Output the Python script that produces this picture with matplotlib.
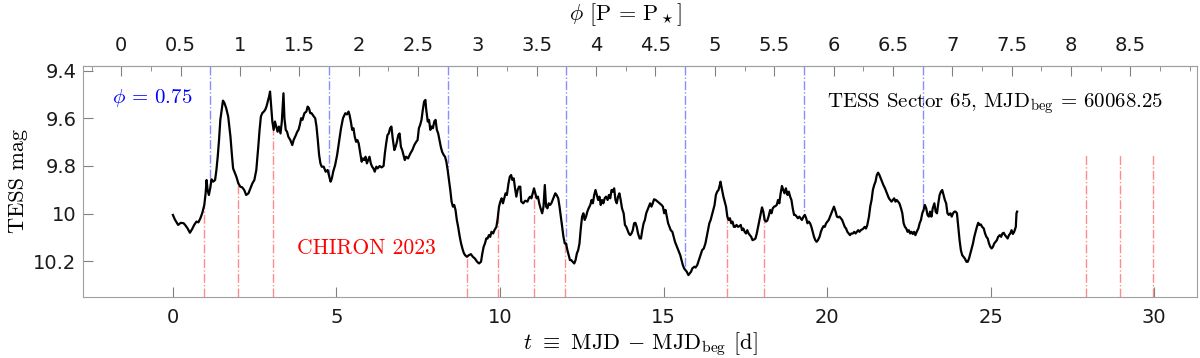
import numpy as np
import matplotlib
matplotlib.use("Agg")
import matplotlib.pyplot as plt
from matplotlib.ticker import MultipleLocator

plt.rcParams['mathtext.fontset'] = 'cm'
plt.rcParams['font.family'] = 'DejaVu Sans'

# TESS Sector 65 light curve, t = MJD - MJD_beg [d]
t = [0.00, 0.06, 0.16, 0.24, 0.33, 0.39, 0.45, 0.52, 0.59, 0.65, 0.72, 0.78, 0.84, 0.90, 0.96,
     1.00, 1.03, 1.06, 1.10, 1.14, 1.18, 1.23, 1.29, 1.33, 1.37, 1.41, 1.45, 1.49, 1.53, 1.57,
     1.63, 1.69, 1.76, 1.80, 1.84, 1.88, 1.94, 2.00, 2.06, 2.12, 2.18, 2.24, 2.31, 2.37, 2.43,
     2.49, 2.55, 2.61, 2.65, 2.69, 2.73, 2.78, 2.82, 2.86, 2.90, 2.94, 2.97, 3.00, 3.04, 3.08,
     3.12, 3.16, 3.20, 3.24, 3.29, 3.33, 3.36, 3.38, 3.41, 3.45, 3.49, 3.53, 3.59, 3.65, 3.69,
     3.76, 3.80, 3.84, 3.88, 3.92, 3.96, 4.02, 4.08, 4.12, 4.16, 4.20, 4.24, 4.31, 4.35, 4.39,
     4.43, 4.47, 4.51, 4.55, 4.61, 4.67, 4.73, 4.78, 4.82, 4.86, 4.90, 4.96, 5.02, 5.08, 5.14,
     5.20, 5.27, 5.32, 5.37, 5.40, 5.44, 5.48, 5.52, 5.56, 5.60, 5.64, 5.68, 5.72, 5.77, 5.81,
     5.85, 5.89, 5.93, 5.97, 6.01, 6.05, 6.09, 6.13, 6.17, 6.22, 6.26, 6.32, 6.38, 6.44, 6.48,
     6.52, 6.56, 6.60, 6.64, 6.68, 6.72, 6.77, 6.81, 6.85, 6.89, 6.93, 6.97, 7.01, 7.05, 7.09,
     7.13, 7.19, 7.26, 7.32, 7.38, 7.44, 7.48, 7.52, 7.56, 7.60, 7.64, 7.68, 7.72, 7.74, 7.79,
     7.83, 7.87, 7.91, 7.95, 7.99, 8.03, 8.07, 8.11, 8.15, 8.19, 8.23, 8.28, 8.32, 8.36, 8.40,
     8.44, 8.48, 8.52, 8.56, 8.60, 8.64, 8.68, 8.72, 8.77, 8.81, 8.85, 8.89, 8.93, 8.99, 9.05,
     9.11, 9.17, 9.23, 9.30, 9.36, 9.42, 9.46, 9.50, 9.54, 9.58, 9.62, 9.66, 9.70, 9.74, 9.79,
     9.83, 9.89, 9.93, 9.97, 10.01, 10.05, 10.09, 10.13, 10.17, 10.21, 10.26, 10.30, 10.34, 10.38, 10.42,
     10.46, 10.50, 10.54, 10.58, 10.62, 10.65, 10.71, 10.77, 10.84, 10.88, 10.92, 10.96, 11.00, 11.04, 11.08,
     11.12, 11.16, 11.20, 11.24, 11.29, 11.33, 11.37, 11.41, 11.45, 11.49, 11.53, 11.57, 11.61, 11.65, 11.69,
     11.73, 11.78, 11.82, 11.86, 11.90, 11.94, 11.98, 12.02, 12.06, 12.10, 12.14, 12.18, 12.22, 12.27, 12.31,
     12.35, 12.39, 12.43, 12.47, 12.51, 12.55, 12.59, 12.63, 12.67, 12.71, 12.76, 12.80, 12.84, 12.88, 12.92,
     12.96, 13.00, 13.04, 13.08, 13.12, 13.16, 13.20, 13.24, 13.29, 13.33, 13.37, 13.41, 13.45, 13.49, 13.53,
     13.57, 13.61, 13.65, 13.69, 13.73, 13.78, 13.82, 13.86, 13.90, 13.94, 13.98, 14.02, 14.06, 14.10, 14.14,
     14.18, 14.22, 14.27, 14.31, 14.35, 14.39, 14.43, 14.47, 14.51, 14.55, 14.59, 14.63, 14.67, 14.71, 14.76,
     14.82, 14.88, 14.94, 14.98, 15.02, 15.06, 15.10, 15.14, 15.18, 15.22, 15.27, 15.31, 15.35, 15.39, 15.43,
     15.47, 15.51, 15.55, 15.59, 15.63, 15.67, 15.71, 15.76, 15.80, 15.84, 15.88, 15.94, 15.98, 16.03, 16.08,
     16.13, 16.18, 16.23, 16.28, 16.32, 16.36, 16.40, 16.44, 16.48, 16.52, 16.56, 16.60, 16.64, 16.68, 16.72,
     16.74, 16.79, 16.83, 16.87, 16.91, 16.95, 16.99, 17.03, 17.07, 17.11, 17.15, 17.19, 17.23, 17.28, 17.32,
     17.36, 17.40, 17.44, 17.48, 17.52, 17.56, 17.60, 17.64, 17.68, 17.72, 17.77, 17.81, 17.85, 17.89, 17.93,
     17.97, 18.01, 18.05, 18.09, 18.13, 18.17, 18.21, 18.26, 18.30, 18.34, 18.38, 18.42, 18.46, 18.50, 18.54,
     18.58, 18.62, 18.66, 18.70, 18.74, 18.79, 18.83, 18.87, 18.91, 18.95, 18.99, 19.03, 19.07, 19.11, 19.15,
     19.19, 19.23, 19.28, 19.32, 19.36, 19.40, 19.44, 19.48, 19.52, 19.56, 19.60, 19.64, 19.68, 19.72, 19.77,
     19.81, 19.85, 19.89, 19.93, 19.97, 20.01, 20.05, 20.09, 20.13, 20.17, 20.21, 20.26, 20.30, 20.34, 20.38,
     20.42, 20.46, 20.50, 20.54, 20.58, 20.62, 20.66, 20.70, 20.74, 20.79, 20.83, 20.87, 20.91, 20.95, 20.99,
     21.03, 21.07, 21.11, 21.15, 21.19, 21.23, 21.28, 21.32, 21.36, 21.40, 21.44, 21.48, 21.52, 21.56, 21.60,
     21.64, 21.68, 21.72, 21.77, 21.81, 21.85, 21.89, 21.93, 21.97, 22.01, 22.05, 22.09, 22.13, 22.17, 22.21,
     22.26, 22.30, 22.34, 22.38, 22.42, 22.46, 22.50, 22.54, 22.58, 22.62, 22.66, 22.70, 22.74, 22.79, 22.83,
     22.87, 22.91, 22.95, 22.99, 23.03, 23.07, 23.11, 23.15, 23.19, 23.23, 23.28, 23.32, 23.36, 23.40, 23.44,
     23.48, 23.52, 23.56, 23.60, 23.64, 23.68, 23.72, 23.77, 23.81, 23.85, 23.89, 23.93, 23.97, 24.01, 24.05,
     24.09, 24.13, 24.17, 24.21, 24.26, 24.30, 24.34, 24.38, 24.42, 24.46, 24.50, 24.54, 24.58, 24.62, 24.66,
     24.70, 24.74, 24.79, 24.83, 24.87, 24.91, 24.95, 24.99, 25.03, 25.07, 25.11, 25.15, 25.19, 25.23, 25.28,
     25.32, 25.36, 25.40, 25.44, 25.48, 25.52, 25.56, 25.60, 25.64, 25.68, 25.72, 25.77, 25.79, 25.81]

mag = [10.006, 10.025, 10.048, 10.039, 10.041, 10.051, 10.063, 10.081, 10.065, 10.048, 10.034, 10.037, 10.020, 9.997, 9.964,
       9.915, 9.859, 9.901, 9.922, 9.894, 9.856, 9.866, 9.859, 9.817, 9.761, 9.691, 9.606, 9.564, 9.525, 9.533,
       9.557, 9.592, 9.677, 9.747, 9.810, 9.824, 9.845, 9.873, 9.887, 9.890, 9.901, 9.922, 9.915, 9.894, 9.873,
       9.859, 9.817, 9.719, 9.648, 9.592, 9.578, 9.571, 9.564, 9.550, 9.529, 9.508, 9.487, 9.543, 9.613, 9.648,
       9.613, 9.634, 9.656, 9.634, 9.663, 9.613, 9.543, 9.494, 9.599, 9.648, 9.656, 9.677, 9.691, 9.712, 9.691,
       9.670, 9.656, 9.648, 9.627, 9.599, 9.606, 9.578, 9.571, 9.550, 9.557, 9.578, 9.578, 9.592, 9.599, 9.634,
       9.691, 9.754, 9.789, 9.803, 9.803, 9.824, 9.817, 9.845, 9.866, 9.852, 9.824, 9.796, 9.754, 9.698, 9.641,
       9.599, 9.578, 9.583, 9.571, 9.585, 9.613, 9.648, 9.641, 9.677, 9.698, 9.691, 9.705, 9.740, 9.782, 9.768,
       9.775, 9.761, 9.789, 9.775, 9.761, 9.789, 9.803, 9.810, 9.824, 9.803, 9.810, 9.800, 9.806, 9.800, 9.747,
       9.705, 9.670, 9.663, 9.641, 9.634, 9.684, 9.733, 9.719, 9.698, 9.670, 9.663, 9.719, 9.733, 9.754, 9.775,
       9.761, 9.768, 9.747, 9.733, 9.712, 9.698, 9.691, 9.641, 9.627, 9.606, 9.564, 9.529, 9.522, 9.557, 9.613,
       9.606, 9.648, 9.634, 9.641, 9.613, 9.606, 9.648, 9.663, 9.691, 9.719, 9.740, 9.754, 9.761, 9.782, 9.817,
       9.859, 9.901, 9.950, 9.971, 9.964, 9.985, 10.027, 10.056, 10.098, 10.126, 10.147, 10.165, 10.175, 10.182, 10.175,
       10.171, 10.182, 10.189, 10.203, 10.210, 10.203, 10.168, 10.140, 10.126, 10.105, 10.105, 10.091, 10.098, 10.077, 10.084,
       10.070, 10.056, 10.020, 9.971, 9.950, 9.936, 9.957, 9.936, 9.915, 9.922, 9.873, 9.845, 9.838, 9.859, 9.852,
       9.894, 9.929, 9.901, 9.887, 9.887, 9.950, 9.957, 9.946, 9.950, 9.936, 9.929, 9.936, 9.915, 9.894, 9.915,
       9.936, 9.929, 9.957, 9.978, 9.999, 9.971, 9.880, 9.971, 9.978, 9.957, 9.964, 9.957, 9.943, 9.929, 9.915,
       9.922, 9.936, 9.971, 10.013, 10.056, 10.098, 10.126, 10.126, 10.154, 10.175, 10.196, 10.196, 10.203, 10.210, 10.196,
       10.168, 10.154, 10.126, 10.063, 10.013, 9.999, 10.027, 10.013, 9.992, 9.978, 9.964, 9.943, 9.957, 9.922, 9.901,
       9.922, 9.943, 9.929, 9.964, 9.943, 9.957, 9.936, 9.929, 9.943, 9.922, 9.936, 9.901, 9.908, 9.894, 9.943,
       9.957, 9.929, 9.915, 9.943, 9.978, 9.999, 10.048, 10.056, 10.070, 10.084, 10.091, 10.084, 10.070, 10.041, 10.039,
       10.056, 10.084, 10.105, 10.105, 10.070, 10.041, 10.027, 9.999, 9.985, 9.971, 9.957, 9.971, 9.957, 9.940, 9.943,
       9.950, 9.957, 9.964, 9.971, 9.999, 9.985, 10.013, 10.041, 10.056, 10.070, 10.077, 10.098, 10.119, 10.133, 10.147,
       10.161, 10.175, 10.196, 10.217, 10.231, 10.238, 10.245, 10.259, 10.252, 10.245, 10.231, 10.224, 10.227, 10.217, 10.196,
       10.175, 10.154, 10.147, 10.126, 10.098, 10.070, 10.041, 10.027, 10.006, 9.985, 9.964, 9.922, 9.908, 9.901, 9.880,
       9.866, 9.901, 9.929, 9.950, 9.971, 10.013, 10.027, 10.020, 10.041, 10.034, 10.056, 10.056, 10.048, 10.056, 10.053,
       10.048, 10.070, 10.063, 10.077, 10.084, 10.070, 10.084, 10.091, 10.098, 10.112, 10.109, 10.105, 10.084, 10.056, 10.027,
       9.999, 9.974, 9.992, 10.027, 10.034, 10.030, 10.013, 9.985, 9.999, 9.978, 9.971, 9.969, 9.964, 9.943, 9.957,
       9.915, 9.884, 9.901, 9.915, 9.894, 9.922, 9.908, 9.929, 9.943, 9.978, 10.006, 10.006, 10.013, 10.020, 10.013,
       10.020, 10.027, 10.013, 10.006, 10.020, 10.041, 10.034, 10.041, 10.056, 10.077, 10.098, 10.112, 10.119, 10.112, 10.098,
       10.077, 10.063, 10.053, 10.056, 10.041, 10.034, 10.027, 10.013, 9.999, 9.985, 9.971, 9.992, 10.013, 10.016, 10.013,
       10.020, 10.027, 10.041, 10.056, 10.063, 10.077, 10.084, 10.091, 10.084, 10.084, 10.077, 10.084, 10.077, 10.070, 10.077,
       10.070, 10.067, 10.063, 10.056, 10.063, 10.048, 10.013, 9.970, 9.943, 9.901, 9.880, 9.866, 9.838, 9.828, 9.838,
       9.852, 9.866, 9.880, 9.894, 9.908, 9.922, 9.936, 9.943, 9.950, 9.943, 9.936, 9.950, 9.943, 9.950, 9.957,
       9.978, 9.999, 10.041, 10.056, 10.063, 10.077, 10.070, 10.084, 10.077, 10.086, 10.077, 10.091, 10.077, 10.063, 10.041,
       10.027, 9.999, 9.985, 9.964, 9.978, 10.006, 10.013, 9.992, 10.013, 9.978, 9.957, 9.992, 9.999, 9.957, 9.922,
       9.908, 9.901, 9.922, 9.943, 9.957, 9.999, 10.006, 9.999, 10.013, 9.999, 9.992, 9.992, 9.999, 10.056, 10.112,
       10.154, 10.175, 10.182, 10.189, 10.203, 10.203, 10.189, 10.168, 10.147, 10.126, 10.098, 10.077, 10.056, 10.039, 10.048,
       10.046, 10.056, 10.063, 10.084, 10.098, 10.105, 10.126, 10.140, 10.147, 10.140, 10.126, 10.119, 10.112, 10.098, 10.091,
       10.098, 10.084, 10.081, 10.091, 10.098, 10.105, 10.091, 10.084, 10.070, 10.086, 10.077, 10.056, 9.999, 9.992]

# CHIRON 2023 epochs
t_chiron = [0.95, 1.98, 3.05, 8.99, 9.95, 11.05, 11.98, 16.95, 18.06, 27.93, 28.95, 29.96]
mag_nodata = 9.75

# ephemeris for the phase axis
t_phi0 = -1.581
period = 3.630
phi_marks = [0.75, 1.75, 2.75, 3.75, 4.75, 5.75, 6.75]

t = np.array(t)
mag = np.array(mag)

serif = 'cmr10'

fig = plt.figure(figsize=(12, 3.58), dpi=100)
ax = fig.add_axes([0.0694, 0.1712, 0.9284, 0.6453])

ylo, yhi = 10.35, 9.378
ax.set_xlim(-2.74, 31.32)
ax.set_ylim(ylo, yhi)

# red CHIRON lines up to the light curve
for tc in t_chiron:
    if tc <= t[-1]:
        top = np.interp(tc, t, mag)
    else:
        top = mag_nodata
    ax.plot([tc, tc], [ylo, top], color='#ff8c8c', lw=1.0, ls='-.', zorder=1)

# blue phase lines down to the light curve
for ph in phi_marks:
    tb = t_phi0 + ph * period
    ax.plot([tb, tb], [yhi, np.interp(tb, t, mag)], color='#8c8cff', lw=1.0, ls='-.', zorder=1)

ax.plot(t, mag, color='black', lw=1.6, zorder=3)

ax.text(-1.87, 9.514, r'$\phi$ = 0.75', color='blue', fontsize=15, va='center', ha='left',
        family=serif)
ax.text(3.8, 10.148, 'CHIRON 2023', color='red', fontsize=15.5, va='center', ha='left',
        family=serif)
ax.text(30.26, 9.539, r'TESS Sector 65, MJD$_{\rm beg}$ = 60068.25', fontsize=15,
        va='center', ha='right', family=serif)

gray = '#a0a0a0'
for s in ax.spines.values():
    s.set_color(gray)
ax.xaxis.set_major_locator(MultipleLocator(5))
ax.set_yticks([9.4, 9.6, 9.8, 10, 10.2])
ax.set_yticklabels(['9.4', '9.6', '9.8', '10', '10.2'])
ax.tick_params(axis='both', direction='in', color='#808080', labelsize=14, length=7.5, labelcolor='#1a1a1a')
ax.tick_params(axis='x', pad=8)
ax.tick_params(axis='y', pad=5)

ax.set_ylabel('TESS mag', fontsize=16, labelpad=4, family=serif)
ax.set_xlabel(r'$t$ $\equiv$ MJD $-$ MJD$_{\rm beg}$ [d]', fontsize=16, labelpad=2, family=serif)

sec = ax.secondary_xaxis('top', functions=(lambda x: (x - t_phi0) / period,
                                           lambda p: t_phi0 + p * period))
sec.set_xticks(np.arange(0, 8.6, 0.5))
sec.set_xticklabels(['0', '0.5', '1', '1.5', '2', '2.5', '3', '3.5', '4', '4.5',
                     '5', '5.5', '6', '6.5', '7', '7.5', '8', '8.5'])
sec.xaxis.set_minor_locator(MultipleLocator(0.25))
sec.tick_params(axis='x', which='major', direction='in', color='#808080', labelsize=14,
                length=7.5, pad=8, labelcolor='#1a1a1a')
sec.tick_params(axis='x', which='minor', direction='in', color='#808080', length=3.5)
sec.spines['top'].set_color(gray)

# phase axis title
fig.text(0.5217, 0.958, r'$\phi$ [P = P$_\star$]', fontsize=16, ha='center', va='center',
         family=serif)

fig.savefig('out.png', dpi=100)
